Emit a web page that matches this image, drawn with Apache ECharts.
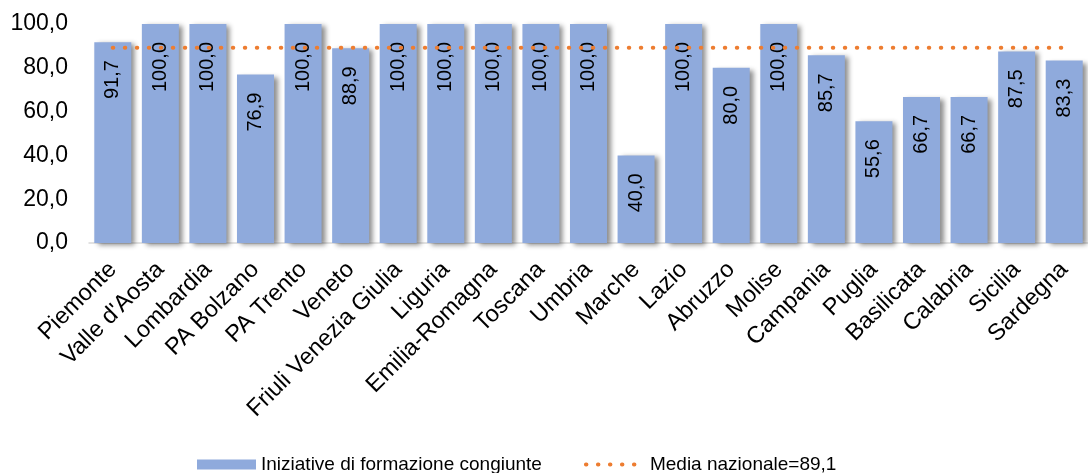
<!DOCTYPE html>
<html>
<head>
<meta charset="utf-8">
<script src="https://cdn.jsdelivr.net/npm/echarts@6/dist/echarts.min.js"></script>
<style>
  html, body { margin: 0; padding: 0; background: #fff; }
  #main { width: 1088px; height: 473px; }
</style>
</head>
<body>
<div id="main"></div>
<script>
// regioni
var regioni = ['Piemonte', "Valle d'Aosta", 'Lombardia', 'PA Bolzano', 'PA Trento', 'Veneto',
  'Friuli Venezia Giulia', 'Liguria', 'Emilia-Romagna', 'Toscana', 'Umbria', 'Marche', 'Lazio',
  'Abruzzo', 'Molise', 'Campania', 'Puglia', 'Basilicata', 'Calabria', 'Sicilia', 'Sardegna'];

// percentuale iniziative di formazione congiunte
var iniziative = [91.7, 100, 100, 76.9, 100, 88.9, 100, 100, 100, 100, 100, 40.0, 100,
  80.0, 100, 85.7, 55.6, 66.7, 66.7, 87.5, 83.3];

// media nazionale (linea costante)
var media = [89.1, 89.1, 89.1, 89.1, 89.1, 89.1, 89.1, 89.1, 89.1, 89.1, 89.1, 89.1, 89.1,
  89.1, 89.1, 89.1, 89.1, 89.1, 89.1, 89.1, 89.1];

var yTicks = { min: 0, max: 100, interval: 20 };

function virgola(v) {
  return Number(v).toFixed(1).replace('.', ',');
}

var chart = echarts.init(document.getElementById('main'));
var font = 'Arial, "Liberation Sans", sans-serif';
var puntini = { color: '#ed7d31', width: 4, type: [0.5, 11.5], cap: 'round' };

chart.setOption({
  animation: false,
  textStyle: { fontFamily: font },
  grid: { left: 89, right: -9, top: 24, bottom: 230, containLabel: false },
  legend: {
    bottom: -6,
    left: 192,
    itemGap: 42,
    itemWidth: 59,
    itemHeight: 10,
    textStyle: { fontSize: 19, color: '#000', fontFamily: font },
    data: [
      { name: 'Iniziative di formazione congiunte', icon: 'rect' },
      { name: 'Media nazionale=89,1', itemStyle: { opacity: 0 }, lineStyle: puntini }
    ]
  },
  xAxis: {
    type: 'category',
    data: regioni,
    axisLine: { lineStyle: { color: '#d9d9d9', width: 1.5 } },
    axisTick: { show: false },
    axisLabel: {
      interval: 0,
      rotate: 45,
      margin: 23,
      fontSize: 23.5,
      color: '#000',
      fontFamily: font
    }
  },
  yAxis: {
    type: 'value',
    min: yTicks.min,
    max: yTicks.max,
    interval: yTicks.interval,
    splitLine: { show: false },
    axisLine: { show: false },
    axisTick: { show: false },
    axisLabel: {
      margin: 21,
      fontSize: 23,
      color: '#000',
      fontFamily: font,
      formatter: virgola
    }
  },
  series: [
    {
      name: 'Iniziative di formazione congiunte',
      type: 'bar',
      data: iniziative,
      barWidth: 37,
      itemStyle: {
        color: '#8faadc',
        shadowColor: 'rgba(0,0,0,0.45)',
        shadowBlur: 5,
        shadowOffsetX: 4,
        shadowOffsetY: 2
      },
      label: {
        show: true,
        position: 'insideTop',
        distance: 18,
        rotate: 90,
        align: 'right',
        verticalAlign: 'middle',
        fontSize: 20,
        color: '#000',
        fontFamily: font,
        formatter: function (p) { return virgola(p.value); }
      }
    },
    {
      name: 'Media nazionale=89,1',
      type: 'line',
      data: media,
      symbol: 'none',
      z: 5,
      itemStyle: { color: '#ed7d31' },
      lineStyle: puntini
    }
  ]
});
</script>
</body>
</html>
